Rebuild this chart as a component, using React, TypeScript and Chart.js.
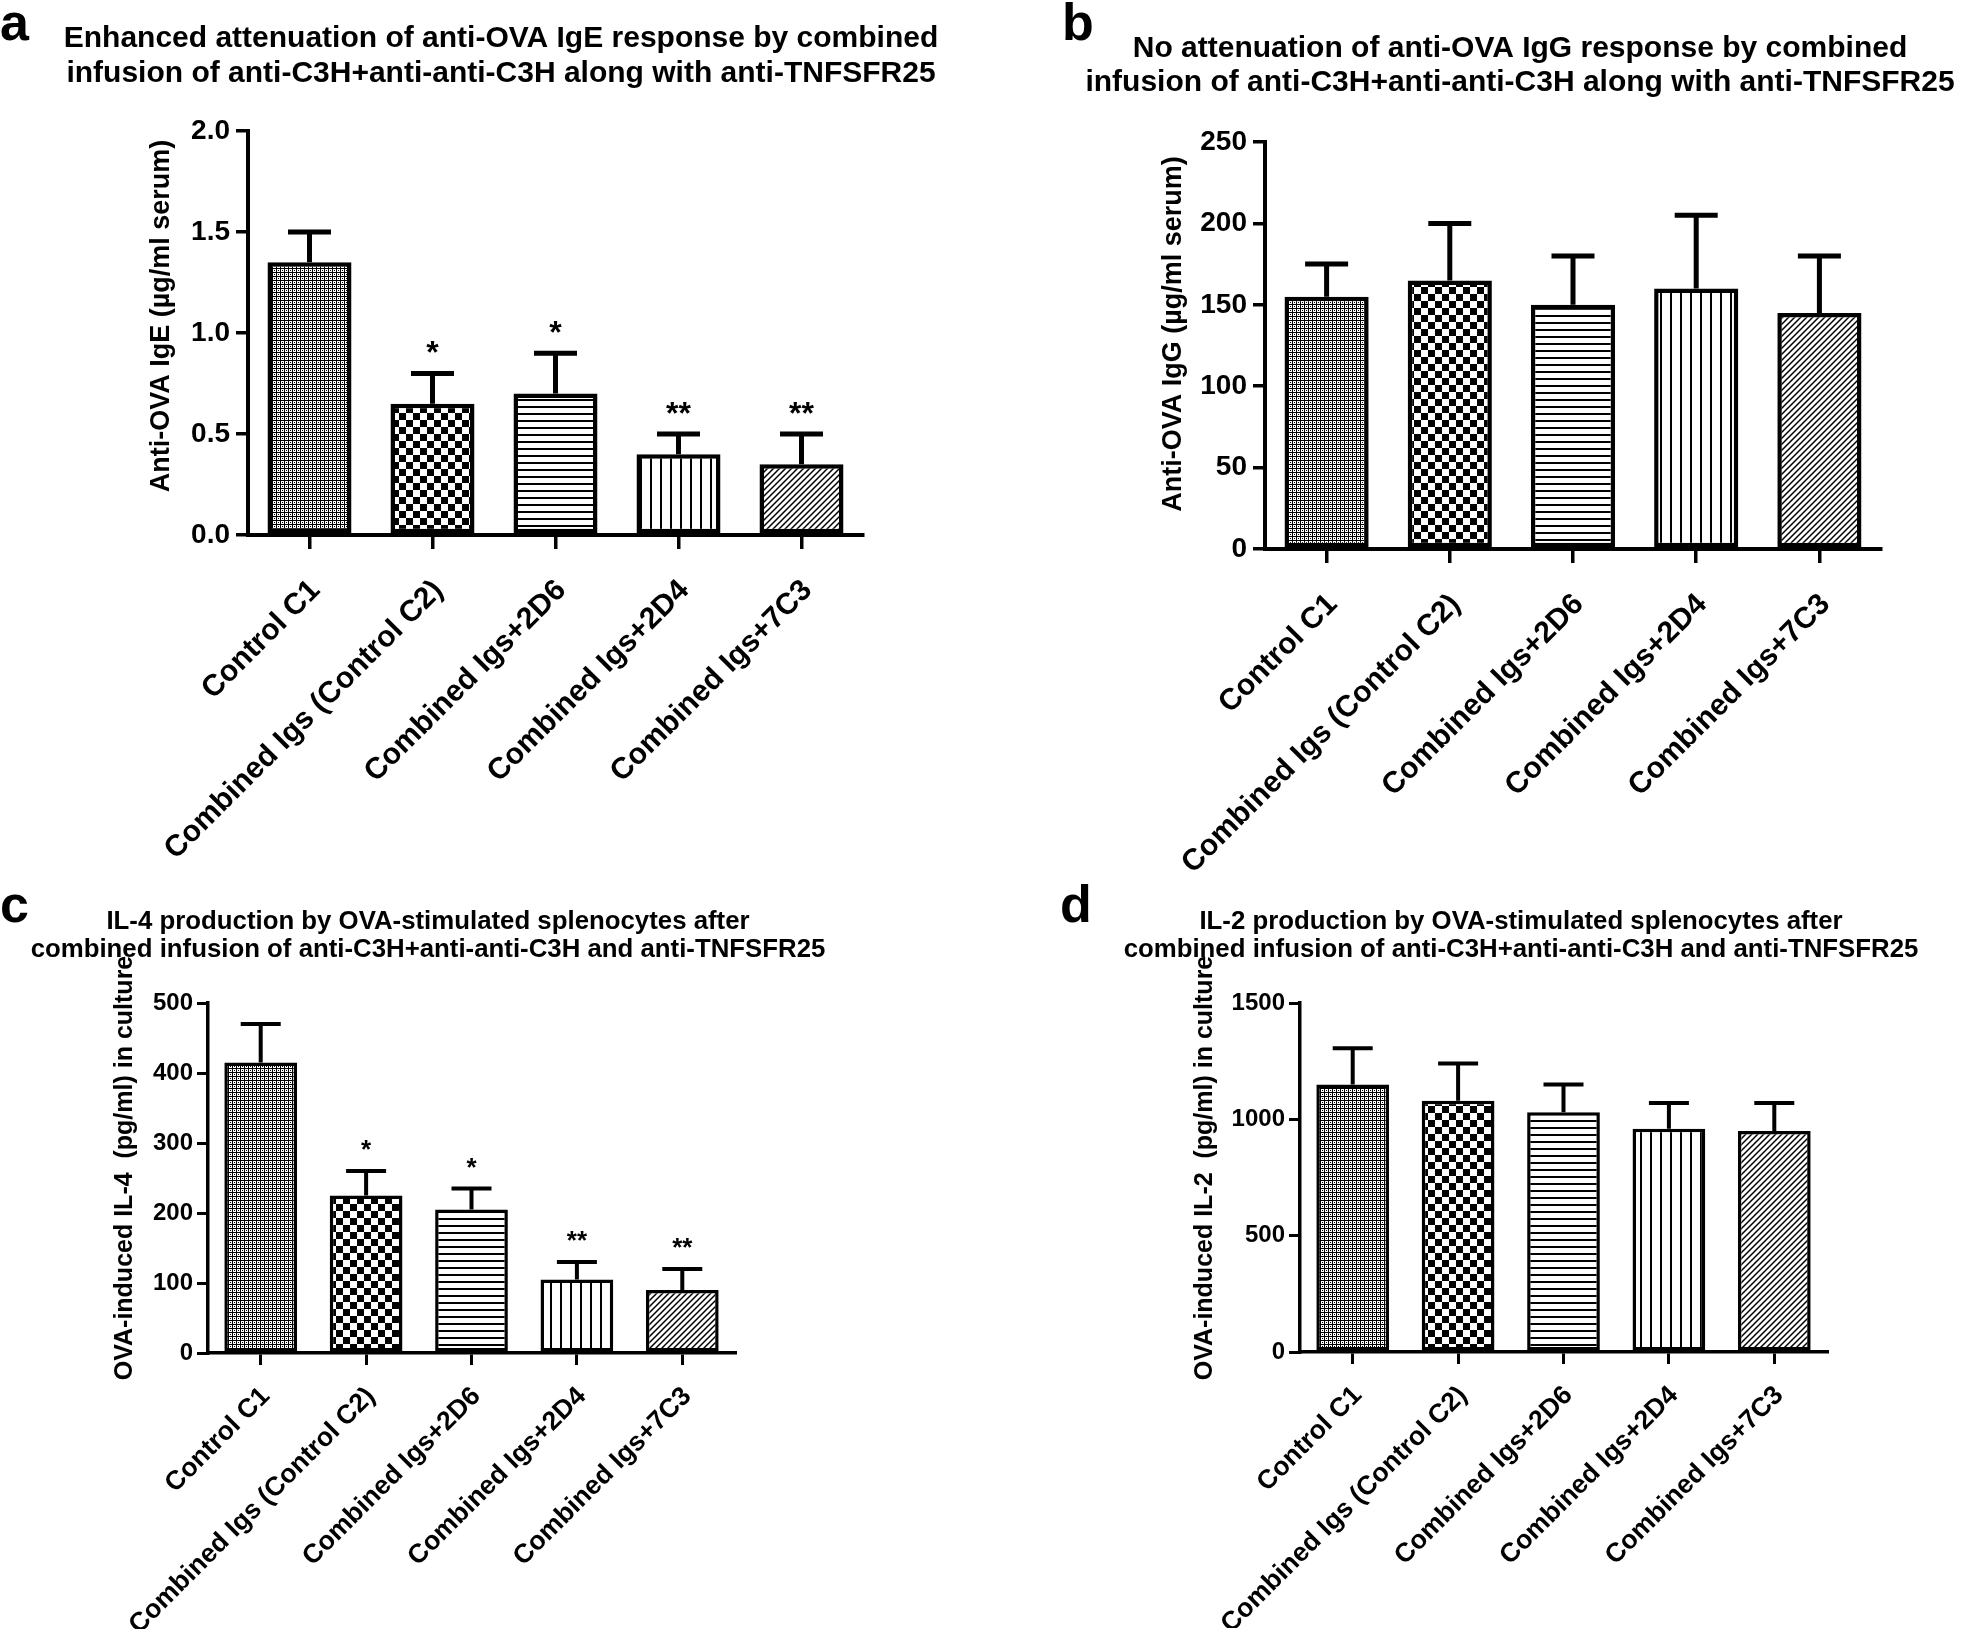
import React, { useEffect, useRef } from "react";
import { Chart, registerables } from "chart.js";

Chart.register(...registerables);

const W = 1961;
const H = 1629;
const FONT = '"Liberation Sans", Arial, Helvetica, sans-serif';

// ---------- data ----------
const categories = [
  "Control C1",
  "Combined Igs (Control C2)",
  "Combined Igs+2D6",
  "Combined Igs+2D4",
  "Combined Igs+7C3",
];

// panel a: anti-OVA IgE (µg/ml serum)
const igeMean = [1.35, 0.65, 0.7, 0.4, 0.35];
const igeSem = [0.15, 0.15, 0.2, 0.1, 0.15];
const igeStars = ["", "*", "*", "**", "**"];
const igeTicks = [0, 0.5, 1.0, 1.5, 2.0];
const igeTitle = [
  "Enhanced attenuation of anti-OVA IgE response by combined",
  "infusion of anti-C3H+anti-anti-C3H along with anti-TNFSFR25",
];
const igeYTitle = "Anti-OVA IgE (\u00b5g/ml serum)";

// panel b: anti-OVA IgG (µg/ml serum)
const iggMean = [155, 165, 150, 160, 145];
const iggSem = [20, 35, 30, 45, 35];
const iggStars = ["", "", "", "", ""];
const iggTicks = [0, 50, 100, 150, 200, 250];
const iggTitle = [
  "No attenuation of anti-OVA IgG response by combined",
  "infusion of anti-C3H+anti-anti-C3H along with anti-TNFSFR25",
];
const iggYTitle = "Anti-OVA IgG (\u00b5g/ml serum)";

// panel c: IL-4 (pg/ml)
const il4Mean = [415, 225, 205, 105, 90];
const il4Sem = [55, 35, 30, 25, 30];
const il4Stars = ["", "*", "*", "**", "**"];
const il4Ticks = [0, 100, 200, 300, 400, 500];
const il4Title = [
  "IL-4 production by OVA-stimulated splenocytes after",
  "combined infusion of anti-C3H+anti-anti-C3H and anti-TNFSFR25",
];
const il4YTitle = "OVA-induced IL-4  (pg/ml) in culture";

// panel d: IL-2 (pg/ml)
const il2Mean = [1150, 1080, 1030, 960, 950];
const il2Sem = [155, 160, 120, 110, 120];
const il2Stars = ["", "", "", "", ""];
const il2Ticks = [0, 500, 1000, 1500];
const il2Title = [
  "IL-2 production by OVA-stimulated splenocytes after",
  "combined infusion of anti-C3H+anti-anti-C3H and anti-TNFSFR25",
];
const il2YTitle = "OVA-induced IL-2  (pg/ml) in culture";

// ---------- layout / style ----------
const bigStyle = {
  letterSize: 52,
  titleSize: 30,
  yTitleSize: 27,
  tickSize: 28,
  labelSize: 30,
  starSize: 32,
  starGap: 10,
  barPct: 0.683,
  capW: 43,
  errW: 5,
  borderW: 4.5,
  axisW: 4,
  tickW: 3.5,
  xTickLen: 14,
  yTickLen: 12,
  yTickPad: 6,
  xLabelPad: 24,
  labelOffset: 6,
  xBox: 400,
};
const smallStyle = {
  letterSize: 52,
  titleSize: 25.8,
  yTitleSize: 25,
  tickSize: 24,
  labelSize: 26.5,
  starSize: 26,
  starGap: 13,
  barPct: 0.69,
  capW: 40,
  errW: 4,
  borderW: 3.5,
  axisW: 3.5,
  tickW: 3,
  xTickLen: 12,
  yTickLen: 11,
  yTickPad: 4,
  xLabelPad: 16,
  labelOffset: 5,
  xBox: 276,
};

const panels = [
  {
    letter: "a", mean: igeMean, sem: igeSem, stars: igeStars, ticks: igeTicks, dec: 1,
    title: igeTitle, yTitle: igeYTitle,
    L: { ...bigStyle, letterX: 0, letterY: 40, titleX: 501, titleY: [47, 82],
      yTitleX: 162, yTitleY: 316, left: 248, right: 863, top: 131, bottom: 535 },
  },
  {
    letter: "b", mean: iggMean, sem: iggSem, stars: iggStars, ticks: iggTicks, dec: 0,
    title: iggTitle, yTitle: iggYTitle,
    L: { ...bigStyle, letterX: 1062, letterY: 40, titleX: 1520, titleY: [57, 91],
      yTitleX: 1174, yTitleY: 334, left: 1265, right: 1881, top: 142, bottom: 549 },
  },
  {
    letter: "c", mean: il4Mean, sem: il4Sem, stars: il4Stars, ticks: il4Ticks, dec: 0,
    title: il4Title, yTitle: il4YTitle,
    L: { ...smallStyle, letterX: 0, letterY: 922, titleX: 428, titleY: [929, 957],
      yTitleX: 125, yTitleY: 1168, left: 208, right: 735, top: 1003, bottom: 1353 },
  },
  {
    letter: "d", mean: il2Mean, sem: il2Sem, stars: il2Stars, ticks: il2Ticks, dec: 0,
    title: il2Title, yTitle: il2YTitle,
    L: { ...smallStyle, letterX: 1060, letterY: 922, titleX: 1521, titleY: [929, 957],
      yTitleX: 1205, yTitleY: 1168, left: 1300, right: 1827, top: 1003, bottom: 1352 },
  },
];

const YW = 100; // forced y-scale box width

function makePatterns(): CanvasPattern[] {
  const mk = (w: number, h: number, draw: (g: CanvasRenderingContext2D) => void) => {
    const c = document.createElement("canvas");
    c.width = w;
    c.height = h;
    const g = c.getContext("2d")!;
    g.fillStyle = "#fff";
    g.fillRect(0, 0, w, h);
    g.fillStyle = "#000";
    g.strokeStyle = "#000";
    draw(g);
    return g.createPattern(c, "repeat")!;
  };
  return [
    mk(4, 4, (g) => {
      g.fillRect(0, 0, 4, 4);
      g.fillStyle = "#fff";
      g.fillRect(1, 1, 3, 3);
      g.fillStyle = "#000";
      g.fillRect(2, 2, 1, 1);
    }),
    mk(14, 14, (g) => {
      g.fillRect(0, 0, 7, 7);
      g.fillRect(7, 7, 7, 7);
    }),
    mk(7, 7, (g) => {
      g.fillRect(0, 0, 7, 2);
    }),
    mk(10, 10, (g) => {
      g.fillRect(0, 0, 2, 10);
    }),
    mk(6, 6, (g) => {
      g.lineWidth = 1.5;
      g.beginPath();
      g.moveTo(-1, 7);
      g.lineTo(7, -1);
      g.moveTo(-1, 1);
      g.lineTo(1, -1);
      g.moveTo(5, 7);
      g.lineTo(7, 5);
      g.stroke();
    }),
  ];
}

function buildChart(canvas: HTMLCanvasElement, p: any, patterns: CanvasPattern[]) {
  const L = p.L;
  const decor = {
    id: "decor_" + p.letter,
    afterDatasetsDraw(chart: any) {
      const ctx = chart.ctx as CanvasRenderingContext2D;
      const ys = chart.scales.y;
      const meta = chart.getDatasetMeta(0);
      ctx.save();
      ctx.strokeStyle = "#000";
      ctx.fillStyle = "#000";
      ctx.lineWidth = L.errW;
      ctx.lineCap = "butt";
      meta.data.forEach((bar: any, i: number) => {
        const topPx = ys.getPixelForValue(p.mean[i] + p.sem[i]);
        ctx.beginPath();
        ctx.moveTo(bar.x, bar.y);
        ctx.lineTo(bar.x, topPx);
        ctx.moveTo(bar.x - L.capW / 2, topPx);
        ctx.lineTo(bar.x + L.capW / 2, topPx);
        ctx.stroke();
        const s = p.stars[i];
        if (s) {
          ctx.font = `bold ${L.starSize}px ${FONT}`;
          ctx.textAlign = "center";
          ctx.textBaseline = "alphabetic";
          ctx.fillText(s, bar.x, topPx - L.starGap);
        }
      });
      ctx.restore();
    },
    afterDraw(chart: any) {
      const ctx = chart.ctx as CanvasRenderingContext2D;
      ctx.save();
      ctx.fillStyle = "#000";
      ctx.font = `bold ${L.letterSize}px ${FONT}`;
      ctx.textAlign = "left";
      ctx.textBaseline = "alphabetic";
      ctx.fillText(p.letter, L.letterX, L.letterY);
      ctx.font = `bold ${L.titleSize}px ${FONT}`;
      ctx.textAlign = "center";
      p.title.forEach((t: string, i: number) => ctx.fillText(t, L.titleX, L.titleY[i]));
      ctx.translate(L.yTitleX, L.yTitleY);
      ctx.rotate(-Math.PI / 2);
      ctx.font = `bold ${L.yTitleSize}px ${FONT}`;
      ctx.textBaseline = "middle";
      ctx.fillText(p.yTitle, 0, 0);
      ctx.restore();
    },
  };

  const ticks: number[] = p.ticks;
  return new Chart(canvas, {
    type: "bar",
    data: {
      labels: categories,
      datasets: [
        {
          data: p.mean,
          backgroundColor: patterns as any,
          borderColor: "#000",
          borderWidth: L.borderW,
          borderSkipped: false,
          barPercentage: L.barPct,
          categoryPercentage: 1,
        },
      ],
    },
    options: {
      responsive: false,
      animation: false,
      devicePixelRatio: 1,
      events: [],
      layout: {
        padding: {
          left: L.left - YW,
          right: W - L.right,
          top: L.top,
          bottom: Math.max(0, H - L.bottom - L.xBox),
        },
      },
      plugins: {
        legend: { display: false },
        title: { display: false },
        tooltip: { enabled: false },
      },
      scales: {
        x: {
          type: "category",
          offset: true,
          grid: {
            display: true,
            drawOnChartArea: false,
            drawTicks: true,
            tickLength: L.xTickLen,
            offset: false,
            color: "#000",
            lineWidth: L.tickW,
          },
          border: { display: true, color: "#000", width: L.axisW, z: 1 },
          ticks: {
            color: "#000",
            font: { family: FONT, size: L.labelSize, weight: "bold" },
            minRotation: 45,
            maxRotation: 45,
            autoSkip: false,
            padding: L.xLabelPad,
            labelOffset: L.labelOffset,
          },
          afterFit: (s: any) => {
            s.height = Math.min(L.xBox, H - L.bottom);
          },
        },
        y: {
          type: "linear",
          min: ticks[0],
          max: ticks[ticks.length - 1],
          afterBuildTicks: (s: any) => {
            s.ticks = ticks.map((v) => ({ value: v }));
          },
          grid: {
            display: true,
            drawOnChartArea: false,
            drawTicks: true,
            tickLength: L.yTickLen,
            color: "#000",
            lineWidth: L.tickW,
          },
          border: { display: true, color: "#000", width: L.axisW, z: 1 },
          ticks: {
            color: "#000",
            font: { family: FONT, size: L.tickSize, weight: "bold" },
            padding: L.yTickPad,
            callback: (v: any) => Number(v).toFixed(p.dec),
          },
          afterFit: (s: any) => {
            s.width = YW;
          },
        },
      },
    } as any,
    plugins: [decor as any],
  });
}

export default function App() {
  const r0 = useRef<HTMLCanvasElement>(null);
  const r1 = useRef<HTMLCanvasElement>(null);
  const r2 = useRef<HTMLCanvasElement>(null);
  const r3 = useRef<HTMLCanvasElement>(null);
  const refs = [r0, r1, r2, r3];

  useEffect(() => {
    const pats = makePatterns();
    const charts = panels.map((p, i) => buildChart(refs[i].current!, p, pats));
    return () => charts.forEach((c) => c.destroy());
  }, []);

  return (
    <div style={{ position: "absolute", left: 0, top: 0, width: W, height: H, background: "#fff" }}>
      {refs.map((r, i) => (
        <canvas
          key={i}
          ref={r}
          width={W}
          height={H}
          style={{ position: "absolute", left: 0, top: 0, width: W, height: H }}
        />
      ))}
    </div>
  );
}
